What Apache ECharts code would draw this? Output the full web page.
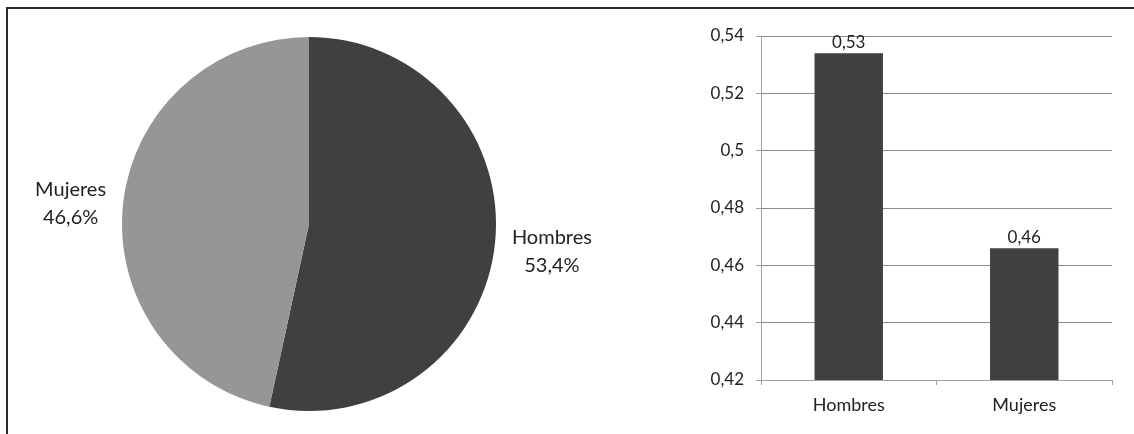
<!DOCTYPE html>
<html>
<head>
<meta charset="utf-8">
<script src="https://cdn.jsdelivr.net/npm/echarts@6/dist/echarts.min.js"></script>
<style>
  html, body { margin: 0; padding: 0; background: #fff; }
  #chart { width: 1134px; height: 434px; }
</style>
</head>
<body>
<div id="chart"></div>
<script>
// Distribución por sexo: proporciones
const categories = ['Hombres', 'Mujeres'];
const shares = [0.534, 0.466];
const pieColors = ['#404040', '#969696'];
const barColor = '#404040';
const yMin = 0.42;
const yMax = 0.54;
const yStep = 0.02;

const FONT = 'Lato, "Open Sans", sans-serif';
const comma = (s) => String(s).replace('.', ',');
// two-decimal value shown above each bar (truncated)
const twoDec = (v) => (Math.floor(v * 100 + 1e-9) / 100).toFixed(2);

const chart = echarts.init(document.getElementById('chart'), null, { renderer: 'canvas' });

chart.setOption({
  animation: false,
  backgroundColor: '#ffffff',
  textStyle: { fontFamily: FONT },
  graphic: [
    {
      type: 'polyline',
      shape: { points: [[7, 434], [7, 8], [1134, 8]] },
      style: { stroke: '#2a2a2a', lineWidth: 2, fill: null },
      silent: true
    }
  ],
  grid: { left: 761, right: 22, top: 36, bottom: 54 },
  xAxis: {
    type: 'category',
    data: categories,
    axisLine: { lineStyle: { color: '#a0a0a0', width: 1 } },
    axisTick: { show: true, length: 5, lineStyle: { color: '#a0a0a0' } },
    axisLabel: { color: '#222', fontSize: 18, margin: 16, fontFamily: FONT }
  },
  yAxis: {
    type: 'value',
    min: yMin,
    max: yMax,
    interval: yStep,
    axisLine: { show: true, lineStyle: { color: '#a0a0a0', width: 1 } },
    axisTick: { show: true, length: 5, lineStyle: { color: '#a0a0a0' } },
    splitLine: { lineStyle: { color: '#8c8c8c', width: 1 } },
    axisLabel: {
      color: '#222',
      fontSize: 17,
      margin: 17,
      fontFamily: FONT,
      formatter: (v) => comma(+v.toFixed(2))
    }
  },
  series: [
    {
      type: 'bar',
      data: shares,
      barWidth: '39%',
      itemStyle: { color: barColor },
      label: {
        show: true,
        position: 'top',
        distance: 2,
        color: '#222',
        fontSize: 17,
        fontFamily: FONT,
        formatter: (p) => comma(twoDec(p.value))
      }
    },
    {
      type: 'pie',
      center: [309, 224],
      radius: [0, 187],
      startAngle: 90,
      clockwise: true,
      data: categories.map((name, i) => ({
        name,
        value: shares[i],
        itemStyle: { color: pieColors[i] }
      })),
      label: {
        show: true,
        position: 'outside',
        color: '#222',
        fontSize: 20,
        lineHeight: 28,
        fontFamily: FONT,
        formatter: (p) => p.name + '\n' + comma((p.value * 100).toFixed(1)) + '%'
      },
      labelLine: { show: false, length: 5, length2: 7 },
      labelLayout: (params) => {
        const r = params.labelRect;
        // right-hand labels sit a little lower, below the slice midline
        const shift = r.x > 309 ? 7 : 0;
        return {
          x: r.x + r.width / 2,
          y: r.y + r.height / 2 + shift,
          align: 'center',
          verticalAlign: 'middle'
        };
      },
      emphasis: { disabled: true }
    }
  ]
});
</script>
</body>
</html>
